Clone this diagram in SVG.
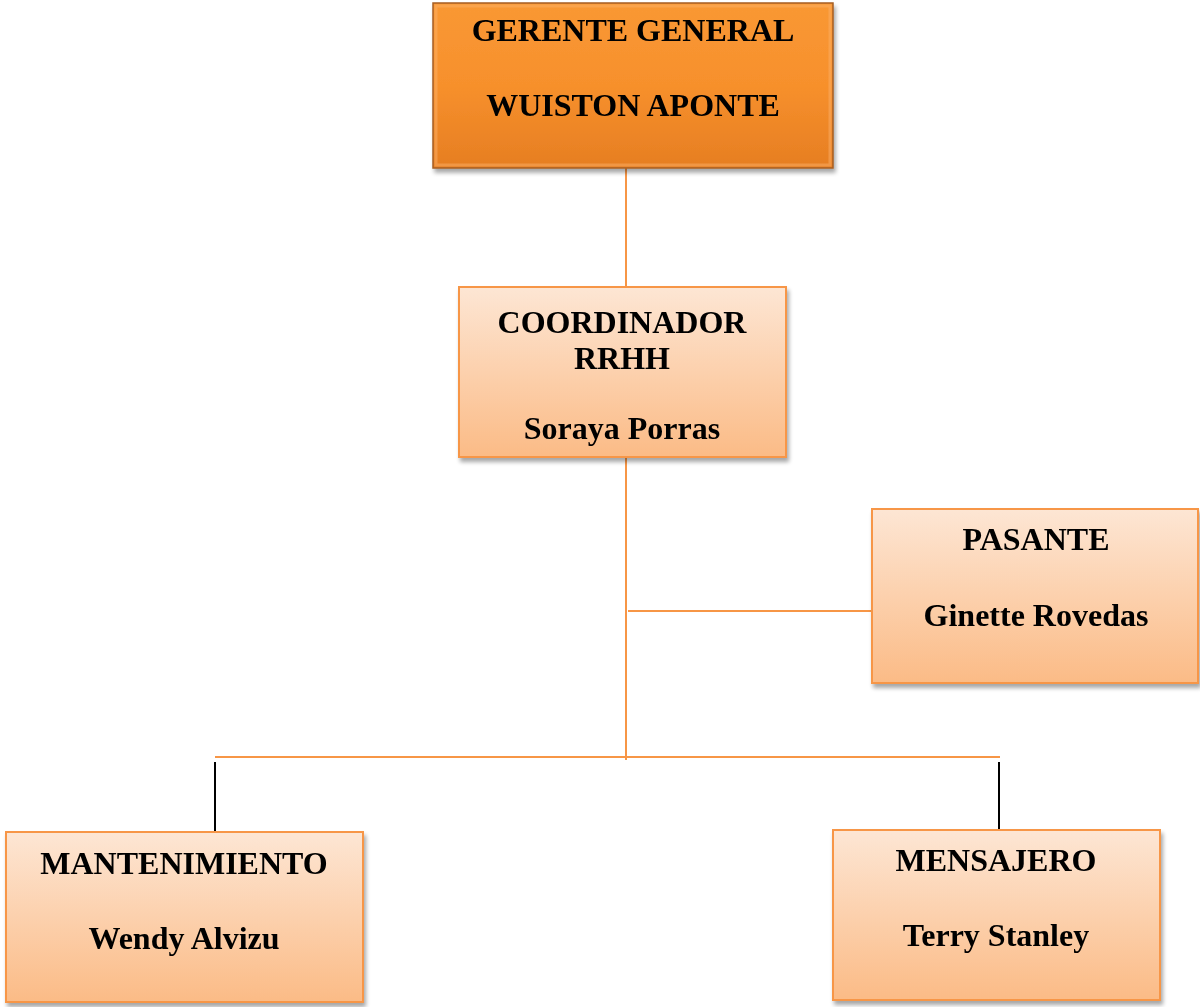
<svg xmlns="http://www.w3.org/2000/svg" width="1200" height="1007" viewBox="0 0 1200 1007">
<defs>
<linearGradient id="lg" x1="0" y1="0" x2="0" y2="1">
<stop offset="0" stop-color="#fde6d4"/>
<stop offset="1" stop-color="#fbbb86"/>
</linearGradient>
<linearGradient id="og" x1="0" y1="0" x2="0" y2="1">
<stop offset="0" stop-color="#f99834"/>
<stop offset="0.5" stop-color="#f7902c"/>
<stop offset="1" stop-color="#e67e22"/>
</linearGradient>
<filter id="sh" x="-10%" y="-10%" width="130%" height="130%">
<feGaussianBlur in="SourceAlpha" stdDeviation="2"/>
<feOffset dx="2" dy="4" result="b"/>
<feComponentTransfer><feFuncA type="linear" slope="0.35"/></feComponentTransfer>
<feMerge><feMergeNode/><feMergeNode in="SourceGraphic"/></feMerge>
</filter>
</defs>
<style>
.box{fill:url(#lg);stroke:#f79646;stroke-width:2}
.t{font-family:"Liberation Serif","Times New Roman",serif;font-weight:bold;font-size:32px;fill:#000;text-anchor:middle}
.c{stroke:#f79646;stroke-width:2;fill:none}
.k{stroke:#000;stroke-width:2;fill:none}
</style>
<g id="connectors">
<line class="c" x1="626" y1="168" x2="626" y2="287"/>
<line class="c" x1="626" y1="457" x2="626" y2="760"/>
<line class="c" x1="628" y1="611" x2="872" y2="611"/>
<line class="c" x1="215" y1="757" x2="1000" y2="757"/>
<line class="k" x1="215" y1="762" x2="215" y2="832"/>
<line class="k" x1="999" y1="762" x2="999" y2="830"/>
</g>
<g id="gerente" filter="url(#sh)">
<rect x="433" y="3" width="400" height="165" fill="url(#og)" stroke="#a65e24" stroke-width="1.5"/>
<rect x="436" y="6" width="394" height="159" fill="none" stroke="#fbb067" stroke-width="3" opacity="0.5"/>
<text class="t" x="633" y="41">GERENTE GENERAL</text>
<text class="t" x="633" y="116">WUISTON APONTE</text>
</g>
<g id="coordinador" filter="url(#sh)">
<rect class="box" x="459" y="287" width="327" height="170"/>
<text class="t" x="622" y="333">COORDINADOR</text>
<text class="t" x="622" y="369">RRHH</text>
<text class="t" x="622" y="439">Soraya Porras</text>
</g>
<g id="pasante" filter="url(#sh)">
<rect class="box" x="872" y="509" width="326" height="174"/>
<text class="t" x="1036" y="550">PASANTE</text>
<text class="t" x="1036" y="626">Ginette Rovedas</text>
</g>
<g id="mantenimiento" filter="url(#sh)">
<rect class="box" x="6" y="832" width="357" height="170"/>
<text class="t" x="184" y="874">MANTENIMIENTO</text>
<text class="t" x="184" y="949">Wendy Alvizu</text>
</g>
<g id="mensajero" filter="url(#sh)">
<rect class="box" x="833" y="830" width="327" height="170"/>
<text class="t" x="996" y="871">MENSAJERO</text>
<text class="t" x="996" y="946">Terry Stanley</text>
</g>
</svg>
